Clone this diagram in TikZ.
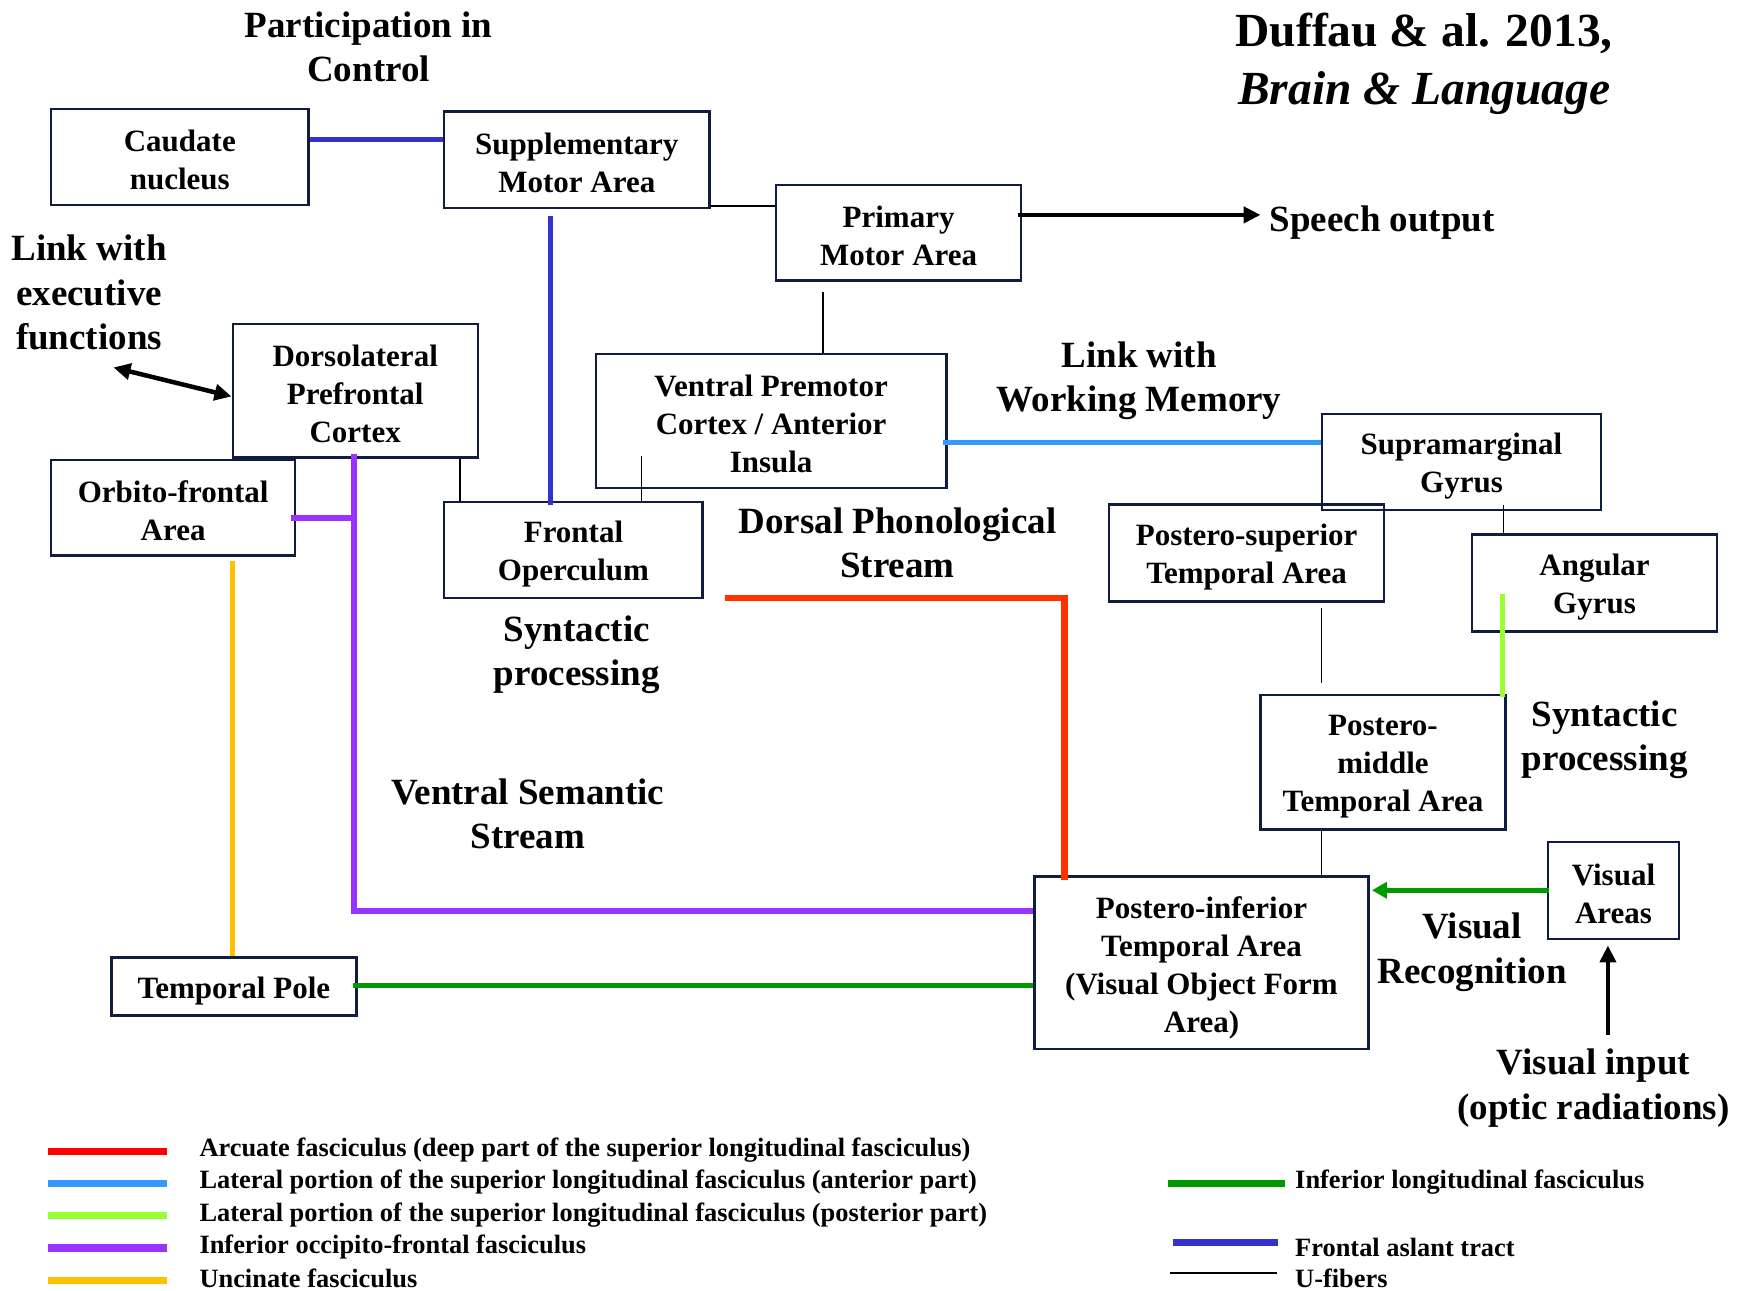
\documentclass[tikz,border=0pt]{standalone}
\usepackage{fontspec}
\setmainfont{Liberation Serif}
\usetikzlibrary{calc,arrows.meta}

% palette
\definecolor{boxc}{RGB}{16,28,64}
\definecolor{fatc}{RGB}{51,51,204}
\definecolor{arcc}{RGB}{255,51,0}
\definecolor{arcleg}{RGB}{255,0,0}
\definecolor{slfa}{RGB}{51,153,255}
\definecolor{slfp}{RGB}{153,255,51}
\definecolor{ifofc}{RGB}{153,51,255}
\definecolor{uncc}{RGB}{255,192,0}
\definecolor{ilfc}{RGB}{0,153,0}

\newcommand\boxfont{\fontsize{31}{38}\selectfont\bfseries}
\newcommand\lblfont{\fontsize{37}{44.5}\selectfont\bfseries}
\newcommand\ttlfont{\fontsize{47.5}{58}\selectfont\bfseries}
\newcommand\legfont{\fontsize{26.4}{30}\selectfont\bfseries}

\tikzset{
  brainbox/.style args={#1/#2}{draw=boxc, line width=2.4pt,
    minimum width=#1*1.1135pt, minimum height=#2*1.1135pt, inner sep=0pt},
  boxtext/.style={align=center, font=\boxfont, inner sep=0pt},
  lbltext/.style={align=center, font=\lblfont, inner sep=0pt},
  legtext/.style={anchor=west, font=\legfont, inner sep=0pt},
  ufib/.style={draw=black, line width=1.3pt},
  tract/.style={line width=6pt},
  fat/.style={tract, draw=fatc, line width=5pt},
  arcuate/.style={tract, draw=arcc, line width=6.5pt},
  slfant/.style={tract, draw=slfa, line width=5pt},
  slfpost/.style={tract, draw=slfp, line width=5pt},
  ifof/.style={tract, draw=ifofc, line width=6.5pt},
  uncinate/.style={tract, draw=uncc, line width=5pt},
  ilf/.style={tract, draw=ilfc, line width=5pt},
  blk/.style={draw=black, line width=4.5pt},
  tip/.style={-{Triangle[length=17pt,width=16pt]}},
}

% an outlined area with its centred caption, set slightly low in the frame
\newcommand\area[5]{%
  \node[brainbox=#3] (#1) at (#2) {};
  \node[boxtext] (#1-t) at ($(#1)+(0,#4)$) {#5};}

\begin{document}
\begin{tikzpicture}[x=1.1135pt, y=-1.1135pt]
\fill[white] (0,0) rectangle (1568,1159);
\useasboundingbox (0,0) rectangle (1568,1159);

% ---------- areas ----------
\area{cau}{161.5,141}{231/86}{2.5}{Caudate\\nucleus}
\area{sma}{518,143.5}{238/87}{3}{Supplementary\\Motor Area}
\area{pma}{807,209}{220/86}{3}{Primary\\Motor Area}
\area{dlpfc}{319,351}{220/120}{2.5}{Dorsolateral\\Prefrontal\\Cortex}
\area{ofa}{155.5,456}{219/86}{3}{Orbito-frontal\\Area}
\area{vpm}{692.5,378}{315/120}{3}{Ventral Premotor\\Cortex / Anterior\\Insula}
\area{fop}{515,494}{232/86}{4}{Frontal\\Operculum}
\area{smg}{1312.5,415}{251/86}{4}{Supramarginal\\Gyrus}
\area{pst}{1119.5,496.5}{247/87}{4}{Postero-superior\\Temporal Area}
\area{ang}{1432,523.5}{220/87}{4}{Angular\\Gyrus}
\area{pmt}{1242,684.5}{220/121}{4}{Postero-\\middle\\Temporal Area}
\area{pit}{1079,864.5}{300/155}{4.5}{Postero-inferior\\Temporal Area\\(Visual Object Form\\Area)}
\area{vis}{1449,799.5}{118/87}{3}{Visual\\Areas}
\area{tp}{210,886}{220/52}{4}{Temporal Pole}

% ---------- labels ----------
\node[lbltext] (part)    at (331,42)    {Participation in\\Control};
\node[lbltext, font=\ttlfont] (title) at (1279,57) {Duffau \& al. 2013,\\\textit{Brain \& Language}};
\node[lbltext] (exec)    at (80,263)    {Link with\\executive\\functions};
\node[lbltext, anchor=west] (speech) at (1140,200) {Speech output};
\node[lbltext] (wm)      at (1023,342)  {Link with\\Working Memory};
\node[lbltext] (dorsal)  at (806,487.5) {Dorsal Phonological\\Stream};
\node[lbltext] (synA)    at (518,588)   {Syntactic\\processing};
\node[lbltext] (ventral) at (474,731)   {Ventral Semantic\\Stream};
\node[lbltext] (synB)    at (1441,664.5){Syntactic\\processing};
\node[lbltext] (visrec)  at (1322,855)  {Visual\\Recognition};
\node[lbltext] (vin)     at (1431,977)  {Visual input\\(optic radiations)};

% ---------- U-fibers ----------
\draw[ufib] ($(sma.south east)+(0,-3)$) coordinate (u1) -- (u1 -| pma.west);
\draw[ufib] ($(pma.south)+(-68,9)$) coordinate (u2) -- (u2 |- vpm.north);
\draw[ufib] ($(dlpfc.south)+(94,0)$) coordinate (u3) -- (u3 |- fop.north);
\draw[ufib] ($(vpm.south)+(-116.5,-30)$) coordinate (u4) -- (u4 |- fop.north);
\draw[ufib] ($(smg.south)+(37.5,-6)$) coordinate (u5) -- (u5 |- ang.north);
\draw[ufib] ($(pst.south)+(67.5,5)$) coordinate (u6) -- ($(u6 |- pmt.north)+(0,-10)$);
\draw[ufib] ($(pmt.south)+(-55,0)$) coordinate (u7) -- (u7 |- pit.north);

% ---------- frontal aslant tract ----------
\draw[fat] ($(cau.east)+(0,-16)$) coordinate (f1) -- (f1 -| sma.west);
\draw[fat] ($(sma.south)+(-24,6)$) coordinate (f2) -- ($(f2 |- fop.north)+(0,4)$);

% ---------- superior longitudinal fasciculus ----------
\draw[slfant] ($(vpm.east)+(-4,19)$) coordinate (b1) -- (b1 -| smg.west);
\draw[slfpost] ($(ang.west)+(28,9.5)$) coordinate (g1) -- ($(g1 |- pmt.north)+(0,3)$);

% ---------- arcuate fasciculus ----------
\draw[arcuate, line join=miter] ($(fop.south east)+(19,-1)$) -| ($(pit.north west)+(28,4)$);

% ---------- inferior occipito-frontal fasciculus ----------
\coordinate (ifA) at ($(dlpfc.south)+(-1,-4)$);
\draw[ifof, line join=miter] (ifA) |- ($(pit.west)+(0,-46.5)$);
\draw[ifof] ($(ofa.east)+(-5,9)$) coordinate (o1) -- (o1 -| ifA);

% ---------- uncinate fasciculus ----------
\draw[uncinate] ($(ofa.south)+(53.5,4)$) coordinate (y1) -- (y1 |- tp.north);

% ---------- inferior longitudinal fasciculus ----------
\draw[ilf] ($(tp.east)+(-4,-1)$) coordinate (g2) -- (g2 -| pit.west);
\draw[ilf, -{Triangle[length=15pt,width=16pt]}] ($(vis.west)+(2,0)$) coordinate (g3) -- ($(g3 -| pit.east)+(2,0)$);

% ---------- black arrows ----------
\draw[blk, tip] ($(pma.east)+(-4,-16)$) coordinate (s1) -- ($(s1 -| speech.west)+(-8,0)$);
\draw[blk, {Triangle[length=17pt,width=16pt]}-{Triangle[length=17pt,width=16pt]}]
  ($(dlpfc.west)+(-106,-21)$) -- ($(dlpfc.west)+(0,5)$);
\draw[blk, tip] ($(vis.south)+(-5,85)$) -- ($(vis.south)+(-5,5)$);

% ---------- legend ----------
\node[legtext] (leg1) at (179,1033) {Arcuate fasciculus (deep part of the superior longitudinal fasciculus)};
\node[legtext] (leg2) at (179,1062) {Lateral portion of the superior longitudinal fasciculus (anterior part)};
\node[legtext] (leg3) at (179,1091) {Lateral portion of the superior longitudinal fasciculus (posterior part)};
\node[legtext] (leg4) at (179,1120) {Inferior occipito-frontal fasciculus};
\node[legtext] (leg5) at (179,1148) {Uncinate fasciculus};
\node[legtext] (leg6) at (1163,1062) {Inferior longitudinal fasciculus};
\node[legtext] (leg7) at (1163,1120) {Frontal aslant tract};
\node[legtext] (leg8) at (1163,1148) {U-fibers};

\draw[tract, draw=arcleg, line width=7pt] ($(leg1.west)+(-136,1)$) -- ($(leg1.west)+(-29,1)$);
\draw[slfant, line width=7pt] ($(leg2.west)+(-136,1)$) -- ($(leg2.west)+(-29,1)$);
\draw[slfpost, line width=7pt] ($(leg3.west)+(-136,1)$) -- ($(leg3.west)+(-29,1)$);
\draw[ifof, line width=8pt] ($(leg4.west)+(-136,1)$) -- ($(leg4.west)+(-29,1)$);
\draw[uncinate, line width=7pt] ($(leg5.west)+(-136,2)$) -- ($(leg5.west)+(-29,2)$);
\draw[ilf, line width=7pt] ($(leg6.west)+(-114,1)$) -- ($(leg6.west)+(-9,1)$);
\draw[fat, line width=7pt] ($(leg7.west)+(-110,-4)$) -- ($(leg7.west)+(-15,-4)$);
\draw[ufib, line width=2.2pt] ($(leg8.west)+(-112,-5)$) -- ($(leg8.west)+(-16,-5)$);
\end{tikzpicture}
\end{document}
